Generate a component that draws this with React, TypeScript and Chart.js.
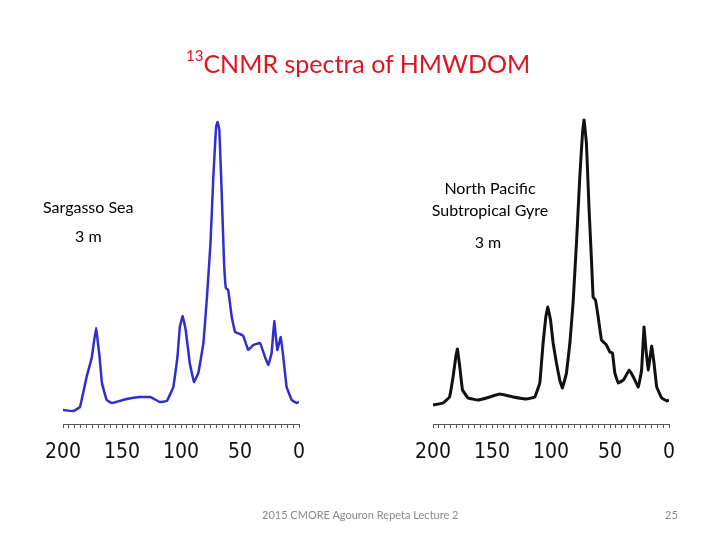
import React, { useEffect, useRef } from "react";
import { Chart, registerables } from "chart.js";

Chart.register(...registerables);

// Sargasso Sea spectrum (chemical shift ppm, relative intensity)
const leftPpm = [200, 191, 185.6, 180, 175.7, 172, 169, 167, 163, 158.7, 155, 146, 135, 126, 118, 112, 106.5, 103, 101, 98.6, 96, 92.6, 89, 85.3, 81, 78, 75, 72.6, 70.3, 69, 67.5, 65.5, 63.6, 62, 60, 57, 54.2, 50, 47.2, 43, 38.7, 33, 28.8, 26, 23.2, 21, 18.4, 15.5, 13.3, 10.5, 6.2, 2, 0];
const leftIntensity = [14, 13, 17, 47, 66, 96, 67, 41, 24, 21, 22, 25, 27, 27, 22, 23, 37, 67, 97, 108, 94, 61, 42, 51, 81, 127, 181, 247, 297, 302, 294, 231, 164, 136, 134, 107, 92, 90, 88, 74, 79, 81, 67, 59, 71, 103, 74, 87, 67, 37, 24, 21, 22];

// North Pacific Subtropical Gyre spectrum
const rightPpm = [200, 191.5, 186, 183, 180.7, 179.3, 177.3, 175, 170.3, 161.8, 154.7, 143.4, 132, 120.8, 113.7, 109.5, 106.7, 104.4, 102.7, 100.4, 98.2, 95.4, 92.6, 90.3, 86.9, 84, 81.3, 78.4, 75.6, 73.3, 72, 70, 67.7, 65.7, 64.3, 62.3, 60, 57.2, 53, 50.1, 47.9, 45.9, 43, 38.7, 33.6, 30.2, 26, 23.2, 21.2, 19.5, 17.5, 14.7, 12.7, 10.4, 6.2, 1.9, 0];
const rightIntensity = [19, 21, 27, 47, 67, 75, 57, 34, 26, 24, 26, 30, 27, 25, 27, 41, 81, 107, 117, 104, 81, 61, 44, 36, 51, 81, 121, 181, 247, 291, 304, 281, 214, 164, 127, 124, 107, 84, 79, 72, 71, 51, 41, 44, 54, 47, 37, 54, 97, 74, 54, 78, 61, 37, 26, 23, 24];

const axisMin = 0;
const axisMax = 200;
const axisStep = 5;
const labelEvery = 50;

function makeChart(
  canvas: HTMLCanvasElement,
  ppm: number[],
  intensity: number[],
  color: string,
  width: number,
  padding: { left: number; right: number; top: number; bottom: number }
) {
  return new Chart(canvas, {
    type: "line",
    data: {
      datasets: [
        {
          data: ppm.map((x, i) => ({ x, y: intensity[i] })),
          borderColor: color,
          borderWidth: width,
          pointRadius: 0,
          tension: 0.06,
          fill: false,
        },
      ],
    },
    options: {
      animation: false,
      responsive: false,
      devicePixelRatio: 1,
      layout: { padding },
      plugins: { legend: { display: false }, tooltip: { enabled: false }, title: { display: false } },
      scales: {
        x: {
          type: "linear",
          min: axisMin,
          max: axisMax,
          reverse: true,
          afterFit: (s: any) => {
            s.height = 40;
          },
          border: { display: true, color: "#555", width: 1 },
          grid: { drawOnChartArea: false, drawTicks: true, tickLength: 4, color: "#555", lineWidth: 1 },
          ticks: {
            stepSize: axisStep,
            autoSkip: false,
            maxRotation: 0,
            minRotation: 0,
            padding: 12,
            color: "#111",
            font: { family: "'Liberation Sans Narrow', 'DejaVu Sans Condensed', sans-serif", size: 21 },
            callback: (v: any) => (Number(v) % labelEvery === 0 ? String(v) : ""),
          },
        },
        y: { display: false, min: 0, max: 314 },
      },
    },
  });
}

export default function App() {
  const leftRef = useRef<HTMLCanvasElement>(null);
  const rightRef = useRef<HTMLCanvasElement>(null);

  useEffect(() => {
    const a = makeChart(leftRef.current!, leftPpm, leftIntensity, "#2f2fcf", 2.5, { left: 63, right: 421, top: 110, bottom: 76 });
    const b = makeChart(rightRef.current!, rightPpm, rightIntensity, "#111111", 3, { left: 433, right: 51, top: 110, bottom: 76 });
    return () => {
      a.destroy();
      b.destroy();
    };
  }, []);

  const font = "Lato, 'Noto Sans', sans-serif";
  const txt = (left: number, cy: number, size: number, s: string, extra: React.CSSProperties = {}) => (
    <div
      style={{
        position: "absolute",
        left,
        top: cy - 12,
        height: 24,
        lineHeight: "24px",
        fontSize: size,
        fontFamily: font,
        whiteSpace: "nowrap",
        color: "#000",
        ...extra,
      }}
    >
      {s}
    </div>
  );
  const ctxt = (cx: number, cy: number, size: number, s: string) =>
    txt(cx - 150, cy, size, s, { width: 300, textAlign: "center" });

  return (
    <div style={{ position: "absolute", left: 0, top: 0, width: 720, height: 540, background: "#fff", overflow: "hidden" }}>
      <canvas ref={leftRef} width={720} height={540} style={{ position: "absolute", left: 0, top: 0, width: 720, height: 540 }} />
      <canvas ref={rightRef} width={720} height={540} style={{ position: "absolute", left: 0, top: 0, width: 720, height: 540 }} />
      <div
        style={{
          position: "absolute",
          left: 186,
          top: 45,
          lineHeight: "36px",
          fontSize: 25,
          fontFamily: font,
          color: "#e0141e",
          whiteSpace: "nowrap",
        }}
      >
        <sup style={{ fontSize: 15, verticalAlign: "top", lineHeight: "20px" }}>13</sup>CNMR spectra of HMWDOM
      </div>
      {txt(43, 207, 16, "Sargasso Sea")}
      {txt(75, 236, 16, "3 m")}
      {ctxt(490, 188, 16, "North Pacific")}
      {ctxt(490, 210, 16, "Subtropical Gyre")}
      {ctxt(488, 242, 16, "3 m")}
      {txt(262, 515, 11, "2015 CMORE Agouron Repeta Lecture 2", { color: "#8a8a8a" })}
      {txt(665, 515, 11, "25", { color: "#8a8a8a" })}
    </div>
  );
}
